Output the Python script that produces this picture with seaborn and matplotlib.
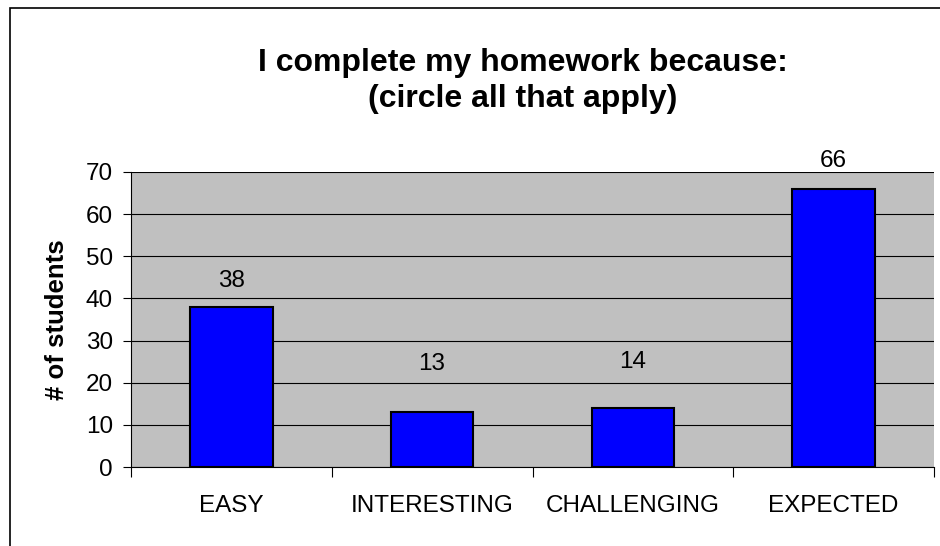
import numpy as np
import pandas as pd
import seaborn as sns
import matplotlib.pyplot as plt
from matplotlib.patches import Rectangle

categories = ['EASY', 'INTERESTING', 'CHALLENGING', 'EXPECTED']
students = [38, 13, 14, 66]
# label lift above each bar in points (as placed in the original chart)
label_offsets = [11, 27, 25, 12]

df = pd.DataFrame({'reason': categories, 'count': students})

sns.set_style('white')
plt.rcParams['font.family'] = ['Liberation Sans', 'DejaVu Sans']
plt.rcParams['text.color'] = 'black'
plt.rcParams['xtick.color'] = 'black'
plt.rcParams['ytick.color'] = 'black'
plt.rcParams['axes.labelcolor'] = 'black'

fig = plt.figure(figsize=(9.4, 5.46), dpi=100)
ax = fig.add_axes([131 / 940, 1 - 467 / 546, 803 / 940, 295 / 546])

sns.barplot(data=df, x='reason', y='count', color='#0000FF', saturation=1,
            width=0.41, edgecolor='black', linewidth=1.5, ax=ax, zorder=3)

ax.set_facecolor('#C0C0C0')
ax.set_ylim(0, 70)
ax.set_xlim(-0.5, 3.5)
ax.set_yticks(range(0, 71, 10))
ax.yaxis.grid(True, color='black', linewidth=0.8)
ax.set_axisbelow(True)

# category boundary ticks
ax.set_xticks(np.arange(-0.5, 4, 1), minor=False)
ax.set_xticklabels([])
ax.set_xticks(range(len(categories)), minor=True)
ax.set_xticklabels(categories, minor=True, fontsize=17.5)
ax.tick_params(axis='x', which='minor', length=0, pad=20)
ax.tick_params(axis='x', which='major', length=7, width=0.8, color='black', direction='out')
ax.tick_params(axis='y', length=6, width=0.8, color='black', direction='out', labelsize=17.5, pad=7)
ax.tick_params(bottom=True, left=True)

for s in ['top', 'right']:
    ax.spines[s].set_visible(False)
for s in ['left', 'bottom']:
    ax.spines[s].set_color('black')
    ax.spines[s].set_linewidth(0.8)

for i, (v, off) in enumerate(zip(students, label_offsets)):
    ax.annotate(str(v), (i, v), xytext=(0, off), textcoords='offset points',
                ha='center', va='bottom', fontsize=17.5)

ax.set_xlabel('')
ax.set_ylabel('# of students', fontsize=18.5, fontweight='bold', labelpad=12)

fig.text(523 / 940, 1 - 81 / 546, 'I complete my homework because:\n(circle all that apply)',
         ha='center', va='center', fontsize=23, fontweight='bold', linespacing=1.3)

fig.patches.append(Rectangle((10 / 940, -0.1), 2, 1 - 8 / 546 + 0.1,
                             transform=fig.transFigure, fill=False,
                             edgecolor='black', linewidth=1.2))

fig.savefig('out.png', dpi=100)
